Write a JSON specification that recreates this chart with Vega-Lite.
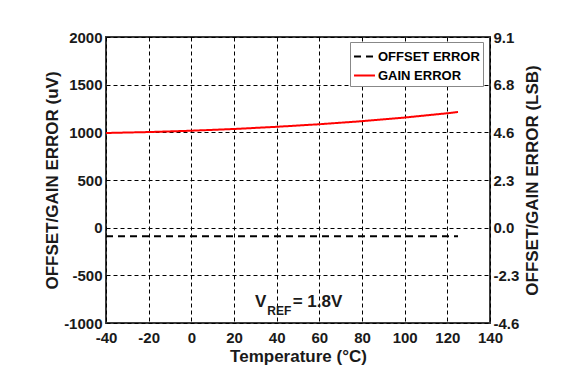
{
  "$schema": "https://vega.github.io/schema/vega-lite/v6.json",
  "width": 384,
  "height": 286,
  "autosize": {"type": "none"},
  "padding": {"left": 106, "top": 37, "right": 88, "bottom": 62},
  "background": "white",
  "config": {
    "font": "Liberation Sans",
    "view": {"stroke": "#3a3a3a", "strokeWidth": 2},
    "axis": {
      "labelFont": "Liberation Sans",
      "labelFontWeight": "bold",
      "labelFontSize": 15,
      "labelColor": "#1a1a1a",
      "labelFlush": false,
      "labelOverlap": false,
      "titleFont": "Liberation Sans",
      "titleFontWeight": "bold",
      "titleFontSize": 17,
      "titleColor": "#1a1a1a",
      "grid": true,
      "gridColor": "black",
      "gridDash": [4, 3],
      "gridWidth": 1,
      "gridOpacity": 1,
      "domain": false,
      "ticks": false
    }
  },
  "data": {
    "values": [
      {"series": "OFFSET ERROR", "temp": -40, "value": -90},
      {"series": "OFFSET ERROR", "temp": -20, "value": -90},
      {"series": "OFFSET ERROR", "temp": 0, "value": -90},
      {"series": "OFFSET ERROR", "temp": 20, "value": -90},
      {"series": "OFFSET ERROR", "temp": 40, "value": -90},
      {"series": "OFFSET ERROR", "temp": 60, "value": -90},
      {"series": "OFFSET ERROR", "temp": 80, "value": -90},
      {"series": "OFFSET ERROR", "temp": 100, "value": -90},
      {"series": "OFFSET ERROR", "temp": 120, "value": -90},
      {"series": "OFFSET ERROR", "temp": 125, "value": -90},
      {"series": "GAIN ERROR", "temp": -40, "value": 993},
      {"series": "GAIN ERROR", "temp": -20, "value": 1003},
      {"series": "GAIN ERROR", "temp": 0, "value": 1017},
      {"series": "GAIN ERROR", "temp": 20, "value": 1035},
      {"series": "GAIN ERROR", "temp": 40, "value": 1058},
      {"series": "GAIN ERROR", "temp": 60, "value": 1085},
      {"series": "GAIN ERROR", "temp": 80, "value": 1117},
      {"series": "GAIN ERROR", "temp": 100, "value": 1155},
      {"series": "GAIN ERROR", "temp": 120, "value": 1200},
      {"series": "GAIN ERROR", "temp": 125, "value": 1213}
    ]
  },
  "layer": [
    {
      "layer": [
        {
          "mark": {"type": "line", "strokeWidth": 2},
          "encoding": {
            "x": {
              "field": "temp",
              "type": "quantitative",
              "scale": {"domain": [-40, 140], "nice": false, "zero": false},
              "axis": {
                "values": [-40, -20, 0, 20, 40, 60, 80, 100, 120, 140],
                "labelExpr": "'' + datum.value",
                "title": "Temperature (°C)",
                "labelPadding": 7,
                "titlePadding": 3
              }
            },
            "y": {
              "field": "value",
              "type": "quantitative",
              "scale": {"domain": [-1000, 2000], "nice": false, "zero": false},
              "axis": {
                "values": [-1000, -500, 0, 500, 1000, 1500, 2000],
                "labelExpr": "'' + datum.value",
                "title": "OFFSET/GAIN ERROR (uV)",
                "labelPadding": 4,
                "titlePadding": 2
              }
            },
            "color": {
              "field": "series",
              "type": "nominal",
              "scale": {"domain": ["OFFSET ERROR", "GAIN ERROR"], "range": ["black", "#ff0000"]},
              "legend": {
                "title": null,
                "orient": "none",
                "legendX": 244,
                "legendY": 5,
                "strokeColor": "#888888",
                "fillColor": "white",
                "padding": 3,
                "rowPadding": 0,
                "symbolType": "stroke",
                "symbolSize": 440,
                "symbolStrokeWidth": 2,
                "labelOffset": 2,
                "labelFont": "Liberation Sans",
                "labelFontWeight": "bold",
                "labelFontSize": 13,
                "labelColor": "black"
              }
            },
            "strokeDash": {
              "field": "series",
              "type": "nominal",
              "scale": {"domain": ["OFFSET ERROR", "GAIN ERROR"], "range": [[7, 5], [1, 0]]},
              "legend": {
                "title": null,
                "orient": "none",
                "legendX": 244,
                "legendY": 5,
                "strokeColor": "#888888",
                "fillColor": "white",
                "padding": 3,
                "rowPadding": 0,
                "symbolType": "stroke",
                "symbolSize": 440,
                "symbolStrokeWidth": 2,
                "labelOffset": 2,
                "labelFont": "Liberation Sans",
                "labelFontWeight": "bold",
                "labelFontSize": 13,
                "labelColor": "black"
              }
            }
          }
        },
        {
          "data": {"values": [{"label": "V"}]},
          "mark": {"type": "text", "align": "left", "baseline": "alphabetic", "fontSize": 17, "fontWeight": "bold", "font": "Liberation Sans", "color": "#1a1a1a"},
          "encoding": {"x": {"datum": 29.8}, "y": {"datum": -829}, "text": {"field": "label"}}
        },
        {
          "data": {"values": [{"label": "REF"}]},
          "mark": {"type": "text", "align": "left", "baseline": "alphabetic", "fontSize": 12, "fontWeight": "bold", "font": "Liberation Sans", "color": "#1a1a1a"},
          "encoding": {"x": {"datum": 35.6}, "y": {"datum": -916}, "text": {"field": "label"}}
        },
        {
          "data": {"values": [{"label": "= 1.8V"}]},
          "mark": {"type": "text", "align": "left", "baseline": "alphabetic", "fontSize": 17, "fontWeight": "bold", "font": "Liberation Sans", "color": "#1a1a1a"},
          "encoding": {"x": {"datum": 47.5}, "y": {"datum": -829}, "text": {"field": "label"}}
        }
      ]
    },
    {
      "mark": {"type": "line", "opacity": 0},
      "transform": [{"filter": "datum.series == 'GAIN ERROR'"}],
      "encoding": {
        "x": {"field": "temp", "type": "quantitative"},
        "y": {
          "field": "value",
          "type": "quantitative",
          "scale": {"domain": [-1000, 2000], "nice": false, "zero": false},
          "axis": {
            "orient": "right",
            "grid": false,
            "values": [-1000, -500, 0, 500, 1000, 1500, 2000],
            "labelExpr": "replace(format(datum.value / 219.7, '.1f'), '\u2212', '-')",
            "title": "OFFSET/GAIN ERROR (LSB)",
            "titleAngle": 270,
            "titleBaseline": "top",
            "labelPadding": 3,
            "titlePadding": 6
          }
        }
      }
    }
  ],
  "resolve": {"scale": {"y": "independent"}}
}
